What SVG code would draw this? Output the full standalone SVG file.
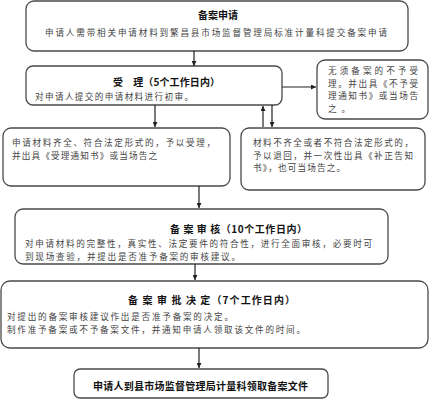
<svg xmlns="http://www.w3.org/2000/svg" width="430" height="400" viewBox="0 0 430 400">
<defs>
<marker id="ah" viewBox="0 0 10 10" refX="10" refY="5" markerWidth="5" markerHeight="5" orient="auto" markerUnits="userSpaceOnUse">
<path d="M0,0 L10,5 L0,10 z" fill="#222"/>
</marker>
<style>
.box{fill:#fff;stroke:#4a4a4a;stroke-width:1.3}
.t{font-family:"Noto Sans CJK SC","Noto Sans",sans-serif;font-size:8.6px;fill:#444}
.b{font-family:"Noto Sans CJK SC","Noto Sans",sans-serif;font-size:10px;font-weight:bold;fill:#111}
.c{stroke:#222;stroke-width:1.2;fill:none;marker-end:url(#ah)}
</style>
</defs>
<rect width="430" height="400" fill="#fff"/>
<g id="n1">
<rect class="box" x="26" y="1" width="382" height="50" rx="8"/>
<text class="b" x="218" y="19" text-anchor="middle">备案申请</text>
<text class="t" x="45" y="36" textLength="342" lengthAdjust="spacing">申请人需带相关申请材料到繁昌县市场监督管理局标准计量科提交备案申请</text>
</g>
<g id="n2">
<rect class="box" x="26" y="66" width="256" height="39" rx="7"/>
<text class="b" x="113" y="86" textLength="107" lengthAdjust="spacing">受　理（5个工作日内）</text>
<text class="t" x="35" y="99.5" textLength="158" lengthAdjust="spacing">对申请人提交的申请材料进行初审。</text>
</g>
<g id="n3">
<rect class="box" x="317" y="60" width="111" height="59" rx="8"/>
<text class="t" x="328" y="74" textLength="90" lengthAdjust="spacing">无须备案的不予受</text>
<text class="t" x="328" y="86.6" textLength="90" lengthAdjust="spacing">理。并出具《不予受</text>
<text class="t" x="328" y="99.2" textLength="90" lengthAdjust="spacing">理通知书》或当场告</text>
<text class="t" x="328" y="111.8" textLength="22" lengthAdjust="spacing">之。</text>
</g>
<g id="n4">
<rect class="box" x="3" y="128" width="227" height="58" rx="8"/>
<text class="t" x="12" y="146" textLength="203" lengthAdjust="spacing">申请材料齐全、符合法定形式的，予以受理，</text>
<text class="t" x="12" y="158.6" textLength="145" lengthAdjust="spacing">并出具《受理通知书》或当场告之</text>
</g>
<g id="n5">
<rect class="box" x="241" y="128" width="184" height="62" rx="8"/>
<text class="t" x="253" y="146" textLength="160" lengthAdjust="spacing">材料不齐全或者不符合法定形式的，</text>
<text class="t" x="253" y="158.6" textLength="160" lengthAdjust="spacing">予以退回，并一次性出具《补正告知</text>
<text class="t" x="253" y="171.2" textLength="92" lengthAdjust="spacing">书》，也可当场告之。</text>
</g>
<g id="n6">
<rect class="box" x="15" y="209" width="373" height="55" rx="8"/>
<text class="b" x="170" y="233" textLength="137" lengthAdjust="spacing">备 案 审 核（10个工作日内）</text>
<text class="t" x="25" y="247" textLength="347" lengthAdjust="spacing">对申请材料的完整性，真实性、法定要件的符合性，进行全面审核，必要时可</text>
<text class="t" x="25" y="259.6" textLength="215" lengthAdjust="spacing">到现场查验，并提出是否准予备案的审核建议。</text>
</g>
<g id="n7">
<rect class="box" x="1" y="281" width="427" height="67" rx="9"/>
<text class="b" x="128" y="304" textLength="167" lengthAdjust="spacing">备 案 审 批 决 定（7个工作日内）</text>
<text class="t" x="7" y="320" textLength="226" lengthAdjust="spacing">对提出的备案审核建议作出是否准予备案的决定。</text>
<text class="t" x="7" y="332.6" textLength="298" lengthAdjust="spacing">制作准予备案或不予备案文件，并通知申请人领取该文件的时间。</text>
</g>
<g id="n8">
<rect class="box" x="74" y="369" width="254" height="29" rx="6"/>
<text class="b" x="93" y="390" textLength="215" lengthAdjust="spacing">申请人到县市场监督管理局计量科领取备案文件</text>
</g>
<g id="connectors">
<line class="c" x1="194" y1="51" x2="194" y2="66"/>
<line class="c" x1="282" y1="87" x2="316" y2="87"/>
<line class="c" x1="155" y1="105" x2="155" y2="127"/>
<line class="c" x1="263" y1="127" x2="263" y2="106"/>
<line class="c" x1="272" y1="105" x2="272" y2="127"/>
<line class="c" x1="199" y1="186" x2="199" y2="208"/>
<line class="c" x1="195" y1="264" x2="195" y2="280"/>
<line class="c" x1="199" y1="348" x2="199" y2="368"/>
</g>
</svg>
